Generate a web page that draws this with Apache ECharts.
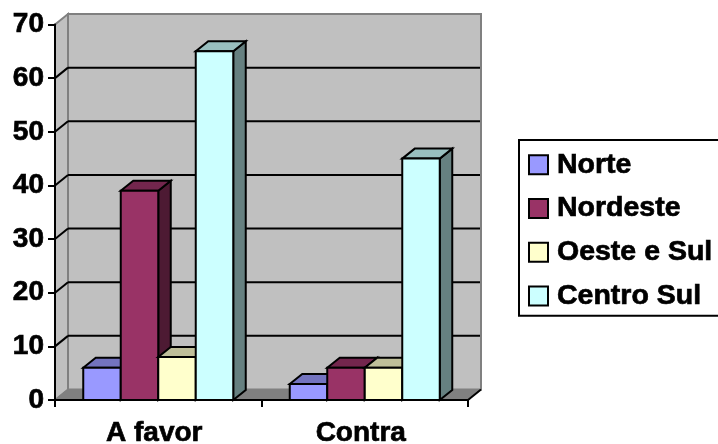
<!DOCTYPE html>
<html>
<head>
<meta charset="utf-8">
<style>html,body{margin:0;padding:0;background:#fff}#chart{width:718px;height:444px}</style>
<script src="https://cdn.jsdelivr.net/npm/echarts@6/dist/echarts.min.js"></script>
</head>
<body>
<div id="chart"></div>
<script>
// Survey answers by region
const categories = ['A favor', 'Contra'];
const regions = ['Norte', 'Nordeste', 'Oeste e Sul', 'Centro Sul'];
const norte = [6, 3];
const nordeste = [39, 6];
const oesteSul = [8, 6];
const centroSul = [65, 45];
const regionValues = [norte, nordeste, oesteSul, centroSul];
const regionColors = ['#9999FF', '#993366', '#FFFFCC', '#CCFFFF'];
const topColors = ['#7373BF', '#73264D', '#BFBF99', '#99BFBF'];
const sideColors = ['#4D4D80', '#4D1A33', '#808066', '#668080'];
const yTicks = [0, 10, 20, 30, 40, 50, 60, 70];

// Pseudo-3D depth of the box and of each column
const DEPTH_X = 13;
const DEPTH_Y = 10.5;
const BAR_SHARE = 0.1816;
const LINE = { stroke: '#000', lineWidth: 2 };

function poly(points, fill, stroke, lineWidth) {
  return {
    type: 'polygon',
    shape: { points },
    style: { fill, stroke: stroke || null, lineWidth: lineWidth || 0 }
  };
}

// Back wall, side wall, floor and the gridlines running round them
function renderBox(params, api) {
  const c = params.coordSys;
  const l = c.x, r = c.x + c.width, t = c.y, b = c.y + c.height;
  const children = [
    poly([[l + DEPTH_X, t - DEPTH_Y], [r + DEPTH_X, t - DEPTH_Y], [r + DEPTH_X, b - DEPTH_Y], [l + DEPTH_X, b - DEPTH_Y]], '#C0C0C0', '#808080', 2),
    poly([[l, t], [l + DEPTH_X, t - DEPTH_Y], [l + DEPTH_X, b - DEPTH_Y], [l, b]], '#C0C0C0', '#808080', 2),
    poly([[l, b], [l + DEPTH_X, b - DEPTH_Y], [r + DEPTH_X, b - DEPTH_Y], [r, b]], '#808080', '#808080', 1)
  ];
  yTicks.forEach(function (v) {
    const y = api.coord([0, v])[1];
    if (v > 0 && v < 70) {
      children.push({ type: 'line', shape: { x1: l + DEPTH_X, y1: y - DEPTH_Y, x2: r + DEPTH_X - 1, y2: y - DEPTH_Y }, style: LINE });
      children.push({ type: 'line', shape: { x1: l, y1: y, x2: l + DEPTH_X, y2: y - DEPTH_Y }, style: LINE });
    }
  });
  children.push({ type: 'line', shape: { x1: r, y1: b, x2: r + DEPTH_X, y2: b - DEPTH_Y }, style: LINE });
  return { type: 'group', children };
}

// One column: front face, top face and right side face
function renderBar(regionIndex) {
  return function (params, api) {
    const base = api.coord([api.value(0), 0]);
    const head = api.coord([api.value(0), api.value(1)]);
    const w = api.size([1, 0])[0] * BAR_SHARE;
    const x0 = base[0] - 2 * w + regionIndex * w;
    const x1 = x0 + w;
    const yb = base[1], yt = head[1];
    const dx = 12.5, dy = 10;
    return {
      type: 'group',
      children: [
        poly([[x1, yb], [x1 + dx, yb - dy], [x1 + dx, yt - dy], [x1, yt]], sideColors[regionIndex], '#000', 2),
        poly([[x0, yt], [x0 + dx, yt - dy], [x1 + dx, yt - dy], [x1, yt]], topColors[regionIndex], '#000', 2),
        poly([[x0, yb], [x1, yb], [x1, yt], [x0, yt]], regionColors[regionIndex], '#000', 2)
      ]
    };
  };
}

const chart = echarts.init(document.getElementById('chart'), null, { renderer: 'canvas' });
const fontFamily = '"Liberation Sans", Arial, sans-serif';
const heavy = { textBorderColor: '#000', textBorderWidth: 0.7 };

const barSeries = regions.map(function (name, i) {
  return {
    type: 'custom',
    name,
    renderItem: renderBar(i),
    clip: false,
    z: 3 + i,
    itemStyle: { color: regionColors[i] },
    encode: { x: 0, y: 1 },
    data: regionValues[i].map(function (v, k) { return [k, v]; })
  };
});

chart.setOption({
  animation: false,
  backgroundColor: '#fff',
  grid: { left: 55, top: 24.5, width: 413, height: 375.5, containLabel: false, outerBoundsMode: 'none' },
  xAxis: {
    type: 'category',
    data: categories,
    z: 10,
    axisLine: { lineStyle: { color: '#000', width: 2 } },
    axisTick: { show: true, length: 7, lineStyle: { color: '#000', width: 2 } },
    axisLabel: Object.assign({ color: '#000', fontFamily, fontWeight: 'bold', fontSize: 28, margin: 19, padding: [0, 8, 0, 0] }, heavy),
    splitLine: { show: false }
  },
  yAxis: {
    type: 'value',
    min: 0,
    max: 70,
    interval: 10,
    z: 10,
    axisLine: { show: true, lineStyle: { color: '#000', width: 2 } },
    axisTick: { show: true, length: 7, lineStyle: { color: '#000', width: 2 } },
    axisLabel: Object.assign({ color: '#000', fontFamily, fontWeight: 'bold', fontSize: 28, margin: 11, padding: [3, 0, 0, 0] }, heavy),
    splitLine: { show: false }
  },
  legend: {
    left: 519,
    top: 140,
    orient: 'vertical',
    data: regions,
    padding: [10, 14, 5, 9],
    itemWidth: 19,
    itemHeight: 19,
    itemGap: 14,
    icon: 'rect',
    selectedMode: false,
    borderColor: '#000',
    borderWidth: 2,
    itemStyle: { borderColor: '#000', borderWidth: 2 },
    textStyle: Object.assign({ color: '#000', fontFamily, fontWeight: 'bold', fontSize: 28.5, padding: [0, 0, 0, 4] }, heavy)
  },
  series: [
    { type: 'custom', name: 'Caixa', renderItem: renderBox, clip: false, silent: true, z: 1, data: [[0, 0]], encode: { x: 0, y: 1 } }
  ].concat(barSeries)
});
</script>
</body>
</html>
